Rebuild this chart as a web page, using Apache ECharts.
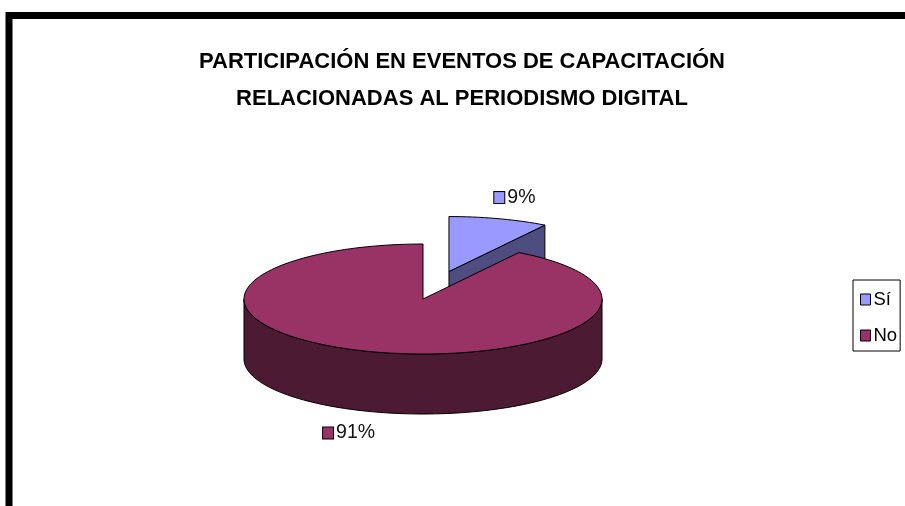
<!DOCTYPE html>
<html>
<head>
<meta charset="utf-8">
<script src="https://cdn.jsdelivr.net/npm/echarts@6/dist/echarts.min.js"></script>
<style>
html, body { margin: 0; padding: 0; background: #fff; }
#chart { width: 905px; height: 506px; }
</style>
</head>
<body>
<div id="chart"></div>
<script>
var categories = ['Sí', 'No'];
var values = [9, 91];
var labels = ['9%', '91%'];
var topColors = ['#9999FF', '#993366'];
var sideColors = ['#4D4D80', '#4D1A33'];
var explode = [0.52, 0];

var FONT = '"Liberation Sans", Arial, sans-serif';
// pie geometry (screen px)
var cx = 423, cy = 299, rx = 179, ry = 55, depth = 60;

var total = values.reduce(function (a, b) { return a + b; }, 0);
var slices = [];
var acc = 0;
values.forEach(function (v) {
  var a0 = acc / total * 360;
  acc += v;
  slices.push({ a0: a0, a1: acc / total * 360 });
});

// angle in degrees, clockwise from 12 o'clock
function pt (ox, oy, deg, k) {
  var r = deg * Math.PI / 180;
  return [ox + k * rx * Math.sin(r), oy - k * ry * Math.cos(r)];
}
function arc (ox, oy, a, b, dy) {
  var pts = [];
  var n = Math.max(2, Math.ceil(Math.abs(b - a) / 2));
  for (var j = 0; j <= n; j++) {
    var p = pt(ox, oy, a + (b - a) * j / n, 1);
    pts.push([p[0], p[1] + dy]);
  }
  return pts;
}

function renderSlice (i) {
  return function (params, api) {
    var s = slices[i];
    var mid = (s.a0 + s.a1) / 2;
    var off = pt(0, 0, mid, explode[i]);
    var ox = cx + off[0], oy = cy + off[1];
    var children = [];
    function face (points, fill) {
      children.push({
        type: 'polygon',
        shape: { points: points },
        style: { fill: fill, stroke: '#000', lineWidth: 1, lineJoin: 'round' }
      });
    }
    // cut faces, only the ones turned to the viewer
    [[s.a0, -1], [s.a1, 1]].forEach(function (f) {
      if (Math.sin(f[0] * Math.PI / 180) * f[1] > 1e-6) {
        var e = pt(ox, oy, f[0], 1);
        face([[ox, oy], e, [e[0], e[1] + depth], [ox, oy + depth]], sideColors[i]);
      }
    });
    // front wall
    var a = Math.max(s.a0, 90), b = Math.min(s.a1, 270);
    if (b > a) {
      face(arc(ox, oy, a, b, 0).concat(arc(ox, oy, b, a, depth)), sideColors[i]);
    }
    // top
    face([[ox, oy]].concat(arc(ox, oy, s.a0, s.a1, 0)), topColors[i]);
    // data label with key
    var lp = pt(ox, oy, mid, 1.4);
    if (Math.cos(mid * Math.PI / 180) < 0) lp[1] += depth;
    children.push({
      type: 'text',
      x: lp[0] - 4,
      y: lp[1],
      style: {
        text: '{k| }{g| }' + labels[i],
        rich: {
          k: { width: 10, height: 11, backgroundColor: topColors[i], borderColor: '#000', borderWidth: 1 },
          g: { width: 3 }
        },
        align: 'center',
        verticalAlign: 'middle',
        fontSize: 19.5,
        fontFamily: FONT,
        fill: '#111'
      }
    });
    return { type: 'group', children: children };
  };
}

var chart = echarts.init(document.getElementById('chart'));
chart.setOption({
  animation: false,
  backgroundColor: '#fff',
  title: {
    text: 'PARTICIPACIÓN EN EVENTOS DE CAPACITACIÓN\nRELACIONADAS AL PERIODISMO DIGITAL',
    left: 462,
    top: 43,
    textAlign: 'center',
    padding: 0,
    textStyle: {
      fontFamily: FONT,
      fontSize: 22,
      fontWeight: 'bold',
      color: '#000',
      lineHeight: 37
    }
  },
  legend: {
    data: categories,
    orient: 'vertical',
    left: 853,
    top: 280,
    padding: [10, 3, 6, 7],
    itemGap: 17,
    itemWidth: 10,
    itemHeight: 11,
    itemStyle: { borderColor: '#000', borderWidth: 1 },
    icon: 'rect',
    borderColor: '#000',
    borderWidth: 1,
    borderRadius: 0,
    selectedMode: false,
    textStyle: { fontFamily: FONT, fontSize: 18.5, color: '#000', padding: [0, 0, 0, -2] }
  },
  graphic: [{
    type: 'rect',
    shape: { x: 9, y: 15.5, width: 1200, height: 1000 },
    style: { fill: 'none', stroke: '#000', lineWidth: 7 },
    silent: true
  }],
  series: categories.map(function (name, i) {
    return {
      type: 'custom',
      name: name,
      coordinateSystem: 'none',
      itemStyle: { color: topColors[i] },
      data: [values[i]],
      renderItem: renderSlice(i)
    };
  })
});
</script>
</body>
</html>
